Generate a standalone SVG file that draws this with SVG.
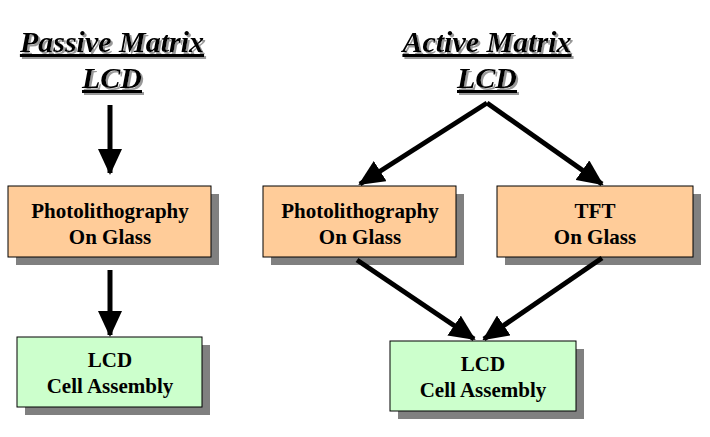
<svg xmlns="http://www.w3.org/2000/svg" width="710" height="437" viewBox="0 0 710 437">
<defs>
<marker id="ah" markerUnits="userSpaceOnUse" markerWidth="26" markerHeight="24" refX="24" refY="12" orient="auto" viewBox="0 0 26 24"><path d="M0,0 L26,12 L0,24 Z" fill="#000"/></marker>
<filter id="ds" x="-10%" y="-20%" width="130%" height="150%">
<feOffset in="SourceAlpha" dx="2" dy="2" result="o"/>
<feFlood flood-color="#999"/><feComposite in2="o" operator="in" result="s"/>
<feMerge><feMergeNode in="s"/><feMergeNode in="SourceGraphic"/></feMerge>
</filter>
</defs>
<style>
.t{font-family:"Liberation Serif",serif;font-weight:bold;font-style:italic;font-size:30px;text-anchor:middle;text-decoration:underline;filter:url(#ds)}
.b{font-family:"Liberation Serif",serif;font-weight:bold;font-size:21px;text-anchor:middle}
.o{fill:#FFCC99;stroke:#000;stroke-width:1}
.g{fill:#CCFFCC;stroke:#000;stroke-width:1}
.s{fill:#808080}
.c{stroke:#000;stroke-width:5;fill:none;marker-end:url(#ah)}
</style>
<rect width="710" height="437" fill="#fff"/>
<g id="title-passive">
<text class="t" x="112" y="52">Passive Matrix</text>
<text class="t" x="112" y="88">LCD</text>
</g>
<g id="title-active">
<text class="t" x="487" y="52">Active Matrix</text>
<text class="t" x="487" y="88">LCD</text>
</g>
<g id="p-photo"><rect class="s" x="16" y="194" width="203" height="71"/><rect class="o" x="8" y="186" width="203" height="71"/><text class="b" x="110" y="218">Photolithography</text><text class="b" x="110" y="244">On Glass</text></g>
<g id="p-cell"><rect class="s" x="25" y="345" width="185" height="70"/><rect class="g" x="17" y="337" width="185" height="70"/><text class="b" x="110" y="367">LCD</text><text class="b" x="110" y="393">Cell Assembly</text></g>
<g id="a-photo"><rect class="s" x="271" y="194" width="193" height="71"/><rect class="o" x="263" y="186" width="193" height="71"/><text class="b" x="360" y="218">Photolithography</text><text class="b" x="360" y="244">On Glass</text></g>
<g id="a-tft"><rect class="s" x="505" y="194" width="196" height="71"/><rect class="o" x="497" y="186" width="196" height="71"/><text class="b" x="595" y="218">TFT</text><text class="b" x="595" y="244">On Glass</text></g>
<g id="a-cell"><rect class="s" x="398" y="349" width="186" height="70"/><rect class="g" x="390" y="341" width="186" height="70"/><text class="b" x="483" y="371">LCD</text><text class="b" x="483" y="397">Cell Assembly</text></g>
<g id="connectors">
<line class="c" x1="110" y1="105" x2="110" y2="173"/>
<line class="c" x1="110" y1="270" x2="110" y2="335"/>
<line class="c" x1="487" y1="103" x2="360" y2="184"/>
<line class="c" x1="487" y1="103" x2="602" y2="184"/>
<line class="c" x1="357" y1="260" x2="474" y2="339"/>
<line class="c" x1="602" y1="258" x2="484" y2="339"/>
</g>
</svg>
